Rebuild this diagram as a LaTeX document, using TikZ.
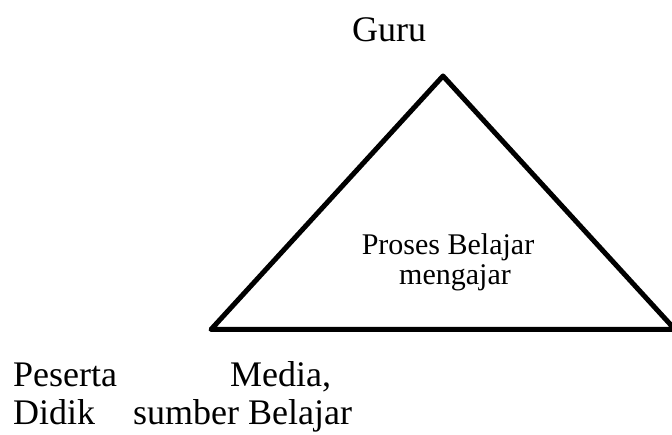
\documentclass[tikz,border=0pt]{standalone}
\usepackage{fontspec}
\setmainfont{Liberation Serif}
\begin{document}
\begin{tikzpicture}[x=1pt,y=1pt,
  lbl/.style={inner sep=0pt,font=\fontsize{36}{38}\selectfont},
  mid/.style={inner sep=0pt,font=\fontsize{30}{30}\selectfont},
  tri/.style={line width=5pt,line join=round}]
\useasboundingbox (0,0) rectangle (672,435);
\clip (0,0) rectangle (672,435);
\coordinate (top) at (443,359);
\coordinate (left) at (211,105.5);
\coordinate (right) at (675,105.5);
\draw[tri] (top) -- (left) -- (right) -- cycle;
\node[lbl,anchor=base west] (guru) at (352,393) {Guru};
\node[mid,anchor=base] (proses) at (448,180) {Proses Belajar};
\node[mid,anchor=base] (mengajar) at (455,150) {mengajar};
\node[lbl,anchor=base west] (peserta) at (13,48) {Peserta};
\node[lbl,anchor=base west] (didik) at (13,10) {Didik};
\node[lbl,anchor=base west] (media) at (230,48) {Media,};
\node[lbl,anchor=base west] (sumber) at (133,10) {sumber Belajar};
\end{tikzpicture}
\end{document}
